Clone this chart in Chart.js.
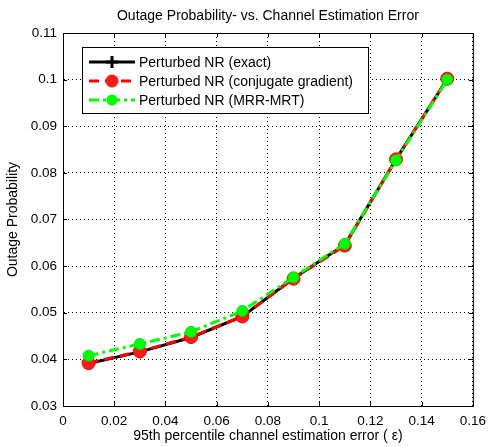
<!DOCTYPE html>
<html>
<head>
<meta charset="utf-8">
<script src="https://cdn.jsdelivr.net/npm/chart.js@4/dist/chart.umd.min.js"></script>
<style>
  body { margin: 0; background: #fff; }
  #wrap { width: 493px; height: 447px; position: relative; }
</style>
</head>
<body>
<div id="wrap"><canvas id="outageChart"></canvas></div>
<script>
// data
const errorLevels = [0.01, 0.03, 0.05, 0.07, 0.09, 0.11, 0.13, 0.15];
const exactNR = [0.0391, 0.0416, 0.0447, 0.0492, 0.0574, 0.0646, 0.0829, 0.1001];
const conjGradNR = [0.0392, 0.0417, 0.0448, 0.0492, 0.0573, 0.0644, 0.0829, 0.1002];
const mrrMrtNR = [0.0408, 0.0433, 0.0459, 0.0504, 0.0576, 0.0648, 0.0827, 0.1000];
const seriesLabels = ['Perturbed NR (exact)', 'Perturbed NR (conjugate gradient)', 'Perturbed NR (MRR-MRT)'];
const chartTitle = 'Outage Probability- vs. Channel Estimation Error';

const FONT = "'Liberation Sans', Arial, sans-serif";

function toPoints(ys) {
    return errorLevels.map((x, i) => ({ x: x, y: ys[i] }));
}

// box round the axes plus inward tick marks, matlab style; title centred on the axes
const framePlugin = {
    id: 'frame',
    afterDraw(chart) {
        const { ctx, chartArea: a, scales } = chart;
        ctx.save();
        ctx.strokeStyle = '#000';
        ctx.lineWidth = 1;
        ctx.setLineDash([]);
        ctx.strokeRect(a.left + 0.5, a.top + 0.5, a.right - a.left, a.bottom - a.top);
        ctx.beginPath();
        scales.x.ticks.forEach(t => {
            const px = Math.round(scales.x.getPixelForValue(t.value)) + 0.5;
            ctx.moveTo(px, a.bottom); ctx.lineTo(px, a.bottom - 4);
            ctx.moveTo(px, a.top); ctx.lineTo(px, a.top + 4);
        });
        scales.y.ticks.forEach(t => {
            const py = Math.round(scales.y.getPixelForValue(t.value)) + 0.5;
            ctx.moveTo(a.left, py); ctx.lineTo(a.left + 4, py);
            ctx.moveTo(a.right, py); ctx.lineTo(a.right - 4, py);
        });
        ctx.stroke();

        ctx.fillStyle = '#000';
        ctx.font = '14px ' + FONT;
        ctx.textAlign = 'center';
        ctx.textBaseline = 'middle';
        ctx.fillText(chartTitle, (a.left + a.right) / 2, 16);
        ctx.restore();
    }
};

// legend box in the upper left of the plot
const legendPlugin = {
    id: 'innerLegend',
    afterDraw(chart) {
        const { ctx, chartArea: a } = chart;
        const bx = a.left + 19, by = a.top + 14, bw = 286, bh = 66;
        ctx.save();
        ctx.fillStyle = '#fff';
        ctx.fillRect(bx, by, bw, bh);
        ctx.strokeStyle = '#000';
        ctx.lineWidth = 1;
        ctx.strokeRect(bx + 0.5, by + 0.5, bw, bh);
        const rows = [by + 15, by + 34, by + 53];
        chart.data.datasets.forEach((ds, i) => {
            const y = rows[i];
            ctx.strokeStyle = ds.borderColor;
            ctx.lineWidth = ds.borderWidth;
            ctx.setLineDash(ds.borderDash || []);
            ctx.beginPath();
            ctx.moveTo(bx + 7, y); ctx.lineTo(bx + 53, y);
            ctx.stroke();
            ctx.setLineDash([]);
            if (ds.pointStyle === 'cross') {
                ctx.lineWidth = 3;
                ctx.beginPath();
                ctx.moveTo(bx + 24, y); ctx.lineTo(bx + 36, y);
                ctx.moveTo(bx + 30, y - 6); ctx.lineTo(bx + 30, y + 6);
                ctx.stroke();
            } else {
                ctx.fillStyle = ds.pointBackgroundColor;
                ctx.beginPath();
                ctx.arc(bx + 30, y, ds.pointRadius, 0, Math.PI * 2);
                ctx.fill();
            }
            ctx.fillStyle = '#000';
            ctx.font = '14px ' + FONT;
            ctx.textBaseline = 'middle';
            ctx.fillText(seriesLabels[i], bx + 57, y + 1);
        });
        ctx.restore();
    }
};

const outageCtx = document.getElementById('outageChart').getContext('2d');
new Chart(outageCtx, {
    type: 'scatter',
    data: {
        datasets: [{
            label: seriesLabels[0],
            data: toPoints(exactNR),
            showLine: true,
            borderColor: '#000',
            borderWidth: 3,
            pointStyle: 'cross',
            pointRadius: 6,
            pointBorderWidth: 3,
            pointBorderColor: '#000',
            pointBackgroundColor: '#000',
            order: 3
        }, {
            label: seriesLabels[1],
            data: toPoints(conjGradNR),
            showLine: true,
            borderColor: '#ff0000',
            borderWidth: 3,
            borderDash: [10, 6],
            pointStyle: 'circle',
            pointRadius: 6.5,
            pointBorderWidth: 1,
            pointBorderColor: '#ff0000',
            pointBackgroundColor: '#ff1a1a',
            order: 2
        }, {
            label: seriesLabels[2],
            data: toPoints(mrrMrtNR),
            showLine: true,
            borderColor: '#00ff00',
            borderWidth: 3,
            borderDash: [10, 4, 3, 4],
            pointStyle: 'circle',
            pointRadius: 5.5,
            pointBorderWidth: 1,
            pointBorderColor: '#00e600',
            pointBackgroundColor: '#00ff00',
            order: 1
        }]
    },
    options: {
        responsive: true,
        maintainAspectRatio: false,
        animation: false,
        layout: { padding: { left: 0, right: 12, top: 33, bottom: 0 } },
        plugins: {
            legend: { display: false },
            tooltip: { enabled: false },
            title: { display: false }
        },
        scales: {
            x: {
                type: 'linear',
                min: 0,
                max: 0.16,
                afterFit(scale) { scale.height = 41; },
                ticks: {
                    stepSize: 0.02,
                    padding: 7,
                    color: '#000',
                    font: { family: FONT, size: 13.5 },
                    callback: v => String(parseFloat(v.toFixed(2)))
                },
                grid: { color: '#000', lineWidth: 1, drawTicks: false },
                border: { display: true, color: '#000', dash: [1, 3] },
                title: {
                    display: true,
                    text: '95th percentile channel estimation error ( ε)',
                    color: '#000',
                    font: { family: FONT, size: 14 },
                    padding: { top: 0, bottom: 2 }
                }
            },
            y: {
                type: 'linear',
                min: 0.03,
                max: 0.11,
                afterFit(scale) { scale.width = 63; },
                ticks: {
                    stepSize: 0.01,
                    padding: 6,
                    color: '#000',
                    font: { family: FONT, size: 13.5 },
                    callback: v => String(parseFloat(v.toFixed(2)))
                },
                grid: { color: '#000', lineWidth: 1, drawTicks: false },
                border: { display: true, color: '#000', dash: [1, 3] },
                title: {
                    display: true,
                    text: 'Outage Probability',
                    color: '#000',
                    font: { family: FONT, size: 14 },
                    padding: { top: 5, bottom: 0 }
                }
            }
        }
    },
    plugins: [framePlugin, legendPlugin]
});
</script>
</body>
</html>
